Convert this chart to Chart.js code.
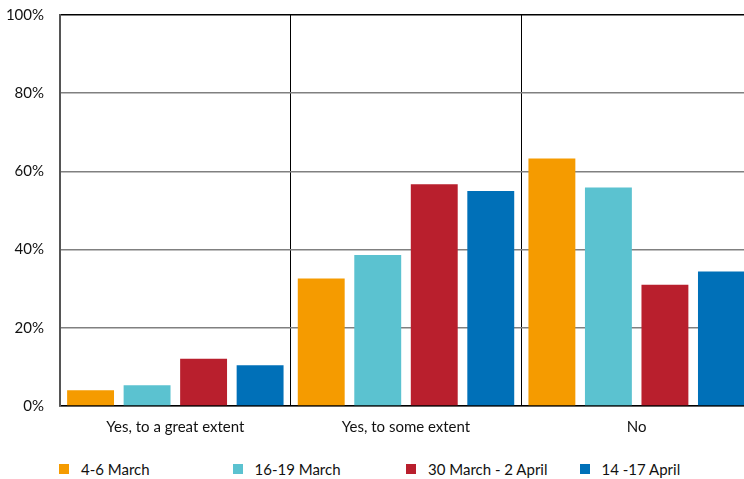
<!DOCTYPE html>
<html>
<head>
<meta charset="utf-8">
<script src="https://cdn.jsdelivr.net/npm/chart.js@4"></script>
<style>
  html, body { margin: 0; padding: 0; background: #fff; overflow: hidden; width: 744px; height: 479px; }
  .chart-box { position: absolute; left: 0; top: -10px; width: 752px; height: 458px; }
  .legend { position: absolute; left: 59px; top: 460px; font-family: Lato, sans-serif; font-size: 15px; color: #111; }
  .legend-item { position: absolute; top: 0; white-space: nowrap; line-height: 18px; }
  .legend-item span.box { position: absolute; left: 0; top: 4px; width: 10px; height: 10px; }
  .legend-item span.txt { position: absolute; left: 22px; top: 0; }
</style>
</head>
<body>
<div class="chart-box"><canvas id="survey-chart"></canvas></div>
<div class="legend" id="legend"></div>
<script>
const categories = ['Yes, to a great extent', 'Yes, to some extent', 'No'];
const seriesLabels = ['4-6 March', '16-19 March', '30 March - 2 April', '14 -17 April'];
const seriesColors = ['#F59B00', '#5BC2D0', '#B91F2D', '#0070B8'];
const march4to6 = [4.0, 32.6, 63.3];
const march16to19 = [5.3, 38.6, 55.9];
const march30toApril2 = [12.1, 56.7, 31.0];
const april14to17 = [10.4, 55.0, 34.4];
const yTicks = [0, 20, 40, 60, 80, 100];

const seriesValues = [march4to6, march16to19, march30toApril2, april14to17];

const graphCanvas = document.getElementById('survey-chart');
const surveyChart = new Chart(graphCanvas, {
  type: 'bar',
  data: {
    labels: categories,
    datasets: seriesValues.map((values, i) => ({
      label: seriesLabels[i],
      data: values,
      backgroundColor: seriesColors[i],
      borderWidth: 0,
      categoryPercentage: 0.98,
      barPercentage: 0.83,
    })),
  },
  options: {
    responsive: true,
    maintainAspectRatio: false,
    animation: false,
    layout: {
      padding: { top: 3, right: 0, left: 0, bottom: 0 },
    },
    plugins: {
      legend: { display: false },
      tooltip: { enabled: false },
    },
    scales: {
      x: {
        grid: {
          display: true,
          offset: true,
          color: '#000',
          lineWidth: 1,
          drawTicks: false,
        },
        border: { display: true, color: '#000', width: 1.5 },
        ticks: {
          padding: 12,
          color: '#111',
          font: { family: 'Lato', size: 15 },
        },
      },
      y: {
        min: 0,
        max: 100,
        afterFit: (scale) => { scale.width = 60; },
        afterBuildTicks: (scale) => { scale.ticks = yTicks.map((v) => ({ value: v })); },
        grid: {
          color: (ctx) => (ctx.tick && ctx.tick.value === 100 ? '#000' : '#808080'),
          lineWidth: 1.5,
          drawTicks: false,
        },
        border: { display: true, color: '#555', width: 2 },
        ticks: {
          padding: 16,
          color: '#111',
          font: { family: 'Lato', size: 15 },
          callback: (value) => value + '%',
        },
      },
    },
  },
});

// legend with fixed item spacing
const legendBox = document.getElementById('legend');
seriesLabels.forEach((label, i) => {
  const item = document.createElement('div');
  item.className = 'legend-item';
  item.style.left = (i * 173.5) + 'px';
  item.innerHTML = '<span class="box" style="background:' + seriesColors[i] + '"></span><span class="txt">' + label + '</span>';
  legendBox.appendChild(item);
});
</script>
</body>
</html>
